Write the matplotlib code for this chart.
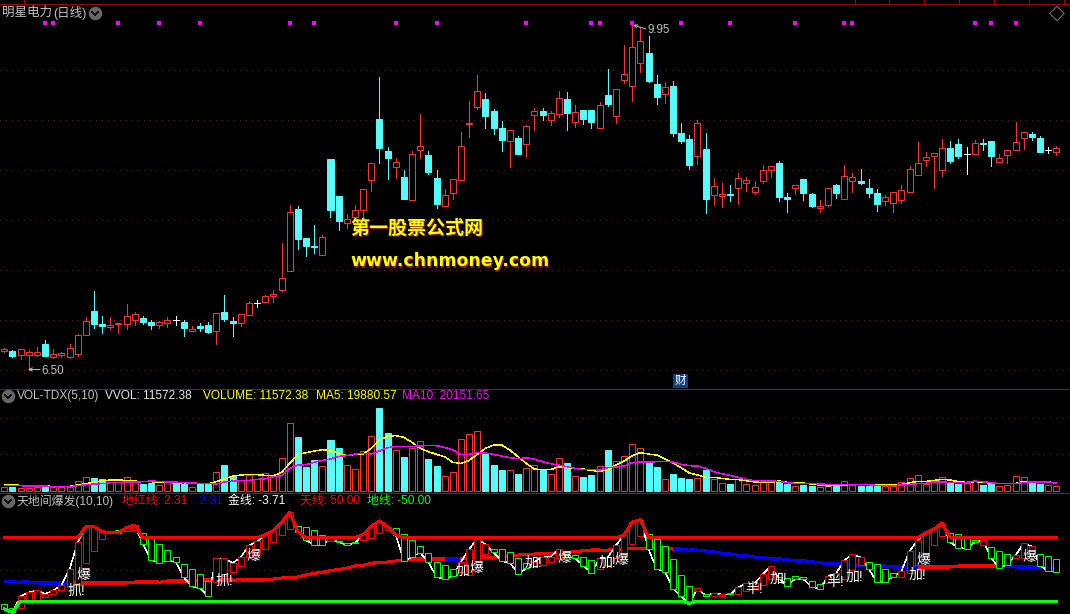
import matplotlib
matplotlib.use('Agg')
import matplotlib.pyplot as plt
import numpy as np

plt.rcParams['font.family'] = ['Liberation Sans', 'Noto Sans CJK SC', 'DejaVu Sans']
plt.rcParams['lines.antialiased'] = False
plt.rcParams['lines.scale_dashes'] = False

# daily prices
opens = [6.69, 6.69, 6.65, 6.65, 6.65, 6.76, 6.63, 6.65, 6.63, 6.66,
         6.85, 7.09, 6.96, 6.93, 6.96, 6.96, 7.00, 7.02, 6.98, 6.95,
         6.97, 7.00, 6.98, 6.89, 6.94, 6.95, 6.89, 7.08, 6.99, 6.97,
         7.05, 7.17, 7.18, 7.24, 7.30, 7.49, 8.11, 7.82, 7.74, 7.65,
         8.61, 8.24, 7.97, 8.03, 8.10, 8.40, 9.01, 8.69, 8.53, 8.43,
         8.20, 8.70, 8.65, 8.42, 8.14, 8.27, 8.40, 8.96, 9.13, 9.21,
         9.09, 8.92, 8.79, 8.82, 8.76, 9.05, 9.09, 9.00, 9.06, 9.21,
         8.98, 9.10, 9.10, 8.92, 9.25, 9.04, 9.40, 9.34, 9.57, 9.67,
         9.36, 9.26, 9.34, 8.87, 8.81, 8.64, 8.71, 8.25, 8.24, 8.26,
         8.32, 8.37, 8.28, 8.39, 8.50, 8.57, 8.23, 8.32, 8.41, 8.26,
         8.12, 8.15, 8.35, 8.21, 8.39, 8.39, 8.32, 8.27, 8.19, 8.17,
         8.20, 8.28, 8.45, 8.60, 8.64, 8.50, 8.72, 8.76, 8.66, 8.66,
         8.77, 8.79, 8.58, 8.65, 8.70, 8.82, 8.86, 8.82, 8.70, 8.68]
closes = [6.71, 6.64, 6.71, 6.68, 6.68, 6.64, 6.66, 6.67, 6.72, 6.85,
          6.99, 6.96, 6.94, 6.95, 6.97, 7.04, 7.06, 6.98, 6.95, 6.98,
          7.00, 7.00, 6.92, 6.91, 6.92, 6.88, 7.07, 7.01, 6.97, 7.06,
          7.17, 7.17, 7.24, 7.26, 7.42, 8.08, 7.81, 7.74, 7.73, 7.83,
          8.10, 7.99, 8.01, 8.10, 8.31, 8.57, 8.72, 8.62, 8.58, 8.21,
          8.66, 8.74, 8.48, 8.16, 8.25, 8.41, 8.74, 8.97, 9.29, 9.04,
          8.92, 8.80, 8.90, 8.66, 8.94, 9.09, 9.05, 9.07, 9.22, 9.07,
          9.08, 9.01, 8.98, 9.15, 9.16, 9.31, 9.46, 9.73, 9.79, 9.39,
          9.23, 9.33, 8.87, 8.79, 8.55, 8.97, 8.21, 8.34, 8.26, 8.25,
          8.42, 8.40, 8.33, 8.50, 8.54, 8.23, 8.21, 8.35, 8.27, 8.14,
          8.14, 8.32, 8.27, 8.44, 8.43, 8.37, 8.27, 8.16, 8.23, 8.28,
          8.30, 8.51, 8.57, 8.63, 8.67, 8.72, 8.59, 8.64, 8.66, 8.77,
          8.76, 8.64, 8.62, 8.70, 8.78, 8.88, 8.83, 8.68, 8.70, 8.72]
highs = [6.72, 6.70, 6.71, 6.70, 6.73, 6.80, 6.71, 6.68, 6.76, 6.86,
         7.03, 7.29, 7.04, 7.03, 6.97, 7.16, 7.08, 7.04, 7.00, 6.99,
         7.03, 7.04, 7.00, 6.94, 6.97, 6.98, 7.07, 7.25, 7.03, 7.06,
         7.19, 7.20, 7.25, 7.30, 7.77, 8.15, 8.14, 7.82, 7.95, 7.85,
         8.61, 8.24, 8.06, 8.15, 8.31, 8.57, 9.43, 8.73, 8.62, 8.50,
         8.69, 9.06, 8.69, 8.50, 8.31, 8.41, 8.88, 9.19, 9.45, 9.27,
         9.11, 8.99, 8.90, 8.84, 8.95, 9.12, 9.12, 9.09, 9.29, 9.28,
         9.15, 9.10, 9.10, 9.18, 9.51, 9.31, 9.75, 9.95, 9.92, 9.84,
         9.45, 9.38, 9.39, 8.97, 8.85, 9.00, 8.87, 8.42, 8.37, 8.35,
         8.47, 8.43, 8.39, 8.55, 8.54, 8.59, 8.27, 8.35, 8.41, 8.27,
         8.20, 8.32, 8.36, 8.55, 8.47, 8.51, 8.41, 8.31, 8.25, 8.28,
         8.35, 8.54, 8.78, 8.68, 8.67, 8.81, 8.79, 8.81, 8.73, 8.80,
         8.81, 8.79, 8.66, 8.70, 8.98, 8.88, 8.88, 8.84, 8.73, 8.74]
lows = [6.68, 6.63, 6.61, 6.50, 6.64, 6.64, 6.62, 6.63, 6.62, 6.64,
        6.85, 6.92, 6.87, 6.91, 6.87, 6.91, 6.95, 6.96, 6.91, 6.92,
        6.93, 6.95, 6.84, 6.89, 6.89, 6.87, 6.76, 6.99, 6.84, 6.94,
        7.05, 7.13, 7.18, 7.18, 7.29, 7.49, 7.71, 7.64, 7.67, 7.65,
        8.03, 7.90, 7.92, 8.03, 8.02, 8.29, 8.57, 8.41, 8.42, 8.21,
        8.20, 8.62, 8.46, 8.12, 8.14, 8.21, 8.40, 8.83, 9.11, 8.92,
        8.86, 8.69, 8.53, 8.66, 8.63, 8.90, 9.00, 8.95, 9.03, 8.90,
        8.93, 8.96, 8.92, 8.92, 9.14, 8.97, 9.37, 9.19, 9.48, 9.38,
        9.16, 9.17, 8.84, 8.77, 8.51, 8.56, 8.07, 8.15, 8.13, 8.19,
        8.16, 8.29, 8.26, 8.37, 8.43, 8.19, 8.08, 8.26, 8.20, 8.13,
        8.08, 8.14, 8.22, 8.21, 8.28, 8.36, 8.23, 8.09, 8.15, 8.08,
        8.17, 8.28, 8.45, 8.54, 8.32, 8.44, 8.57, 8.62, 8.46, 8.66,
        8.70, 8.54, 8.58, 8.57, 8.70, 8.71, 8.80, 8.68, 8.67, 8.65]

# days flagged with a magenta dot along the top
flag_bars = [5, 6, 14, 19, 24, 35, 38, 48, 53, 64, 72, 73, 77, 83, 89, 97,
             103, 104, 119, 121, 124]
flag_level = 9.97

volume = [10800, 9900, 6300, 8100, 9000, 12600, 9900, 9000, 9900, 25200,
          36000, 33300, 31500, 22500, 22500, 36000, 24300, 17100, 21600, 14400,
          25200, 18000, 18000, 9900, 17100, 17100, 49500, 69300, 39600, 28800,
          42300, 32400, 46800, 39600, 87300, 181800, 144900, 63900, 82800, 65700,
          136800, 115200, 68400, 57600, 108000, 146700, 223200, 155700, 108900, 90900,
          114300, 133200, 85500, 66600, 38700, 49500, 138600, 152100, 160200, 102600,
          69300, 55800, 54900, 45000, 62100, 68400, 55800, 44100, 87300, 74700,
          38700, 36900, 41400, 65700, 109800, 79200, 92700, 125100, 114300, 75600,
          63900, 30600, 45000, 34200, 31500, 34200, 55800, 30600, 19800, 18000,
          30600, 17100, 15300, 26100, 23400, 26100, 18900, 11700, 15300, 12600,
          9900, 11700, 13500, 25200, 16200, 12600, 12600, 12600, 11700, 13500,
          22500, 33300, 41400, 17100, 25200, 36000, 20700, 18000, 21600, 27000,
          15300, 18900, 12600, 14400, 38700, 36000, 20700, 18000, 14400, 11572]
ma5 = [16200, 16200, 14400, 13500, 13500, 13500, 10800, 10800, 11700, 15300,
       18900, 22500, 27000, 28800, 28800, 27900, 26100, 24300, 24300, 22500,
       22500, 20700, 21600, 18900, 18900, 18900, 24300, 31500, 39600, 42300,
       44100, 43200, 41400, 40500, 49500, 73800, 98100, 102600, 107100, 110700,
       108000, 100800, 94500, 98100, 99000, 114300, 136800, 147600, 148500, 144000,
       130500, 114300, 105300, 98100, 91800, 76500, 73800, 81900, 98100, 114300,
       123300, 123300, 109800, 91800, 73800, 58500, 56700, 56700, 64800, 62100,
       60300, 58500, 54900, 52200, 56700, 69300, 80100, 94500, 102600, 99000,
       96300, 85500, 74700, 62100, 47700, 42300, 36000, 36000, 33300, 30600,
       29700, 27000, 23400, 22500, 22500, 26100, 22500, 22500, 20700, 18000,
       15300, 12600, 14400, 15300, 17100, 17100, 17100, 17100, 15300, 15300,
       17100, 21600, 25200, 25200, 27900, 30600, 28800, 24300, 22500, 24300,
       23400, 19800, 19800, 19800, 19800, 25200, 25200, 25200, 24300, 19880]
ma10 = [13500, 13500, 13500, 12600, 12600, 12600, 10800, 10800, 10800, 13500,
        16200, 18000, 18900, 21600, 22500, 23400, 23400, 24300, 26100, 25200,
        23400, 23400, 21600, 20700, 19800, 19800, 18000, 23400, 26100, 27000,
        27900, 30600, 32400, 37800, 40500, 60300, 69300, 70200, 76500, 81900,
        85500, 92700, 94500, 99000, 100800, 99000, 107100, 116100, 119700, 119700,
        119700, 120600, 122400, 121500, 117000, 109800, 98100, 98100, 102600, 101700,
        98100, 93600, 89100, 86400, 89100, 85500, 78300, 72900, 69300, 64800,
        60300, 56700, 57600, 55800, 62100, 63900, 66600, 75600, 77400, 77400,
        78300, 79200, 77400, 71100, 67500, 66600, 60300, 51300, 45900, 41400,
        36000, 30600, 27000, 27000, 26100, 25200, 21600, 19800, 19800, 19800,
        18000, 17100, 17100, 17100, 17100, 17100, 16200, 14400, 14400, 14400,
        15300, 17100, 18900, 19800, 23400, 23400, 22500, 21600, 22500, 26100,
        24300, 21600, 18900, 18900, 18900, 22500, 23400, 23400, 23400, 20151]
# doji sessions that still closed lower than the day before
doji_down = [21]

# oscillator boxes, the close is also the white "gold" line
osc_open = [-55.3, -61.6, -60.6, -53.7, -48.9, -44.2, -38.4, -33.1, -27.2, -24.6,
            10.8, 29.9, 47.9, 60.0, 62.2, 61.6, 62.7, 57.4, 50.0, 39.9,
            30.4, 19.3, 8.2, 0.3, -7.7, -18.8, -19.3, -10.3, -4.5, 5.0,
            20.4, 24.6, 33.1, 44.2, 55.3, 64.8, 69.0, 66.9, 62.2, 54.2,
            45.2, 45.2, 42.6, 44.2, 46.3, 50.0, 57.4, 62.2, 65.3, 55.8,
            46.3, 36.8, 25.7, 11.4, 6.6, 0.3, -3.4, -8.7, 14.0, 24.6,
            32.5, 32.0, 28.3, 17.7, 9.8, 4.5, 7.1, 11.4, 17.7, 23.0,
            22.5, 19.3, 14.5, 0.8, 7.1, 17.7, 23.5, 39.9, 53.7, 55.8,
            47.9, 36.8, 16.1, -9.3, -26.7, -33.6, -39.4, -41.5, -41.5, -37.3,
            -38.4, -33.6, -29.9, -24.1, -15.6, -11.4, -13.0, -10.8, -12.4, -18.8,
            -22.5, -20.9, -18.8, -15.6, -1.3, 7.7, 11.4, 8.2, 0.3, -6.1,
            -11.4, -5.0, 7.1, 23.5, 39.4, 53.7, 57.4, 55.8, 49.5, 46.3,
            39.4, 35.2, 28.8, 24.1, 18.8, 18.8, 20.9, 24.1, 20.9, 16.1]
osc_close = [-62.7, -68.0, -42.6, -36.2, -33.1, -38.9, -33.1, -25.1, 0.3, 43.1,
             68.0, 68.0, 60.0, 58.5, 58.5, 66.4, 70.6, 39.9, 15.1, 10.8,
             14.0, 12.4, -12.4, -26.7, -29.9, -41.5, 17.7, 17.7, 10.3, 19.3,
             38.4, 44.7, 55.3, 61.6, 74.9, 90.7, 60.0, 46.3, 38.4, 38.4,
             49.5, 43.1, 38.9, 42.1, 55.8, 68.5, 77.0, 68.0, 55.3, 13.0,
             20.4, 26.7, 11.4, -11.4, -15.6, -9.8, 12.4, 32.0, 48.9, 39.9,
             27.2, 13.0, 10.8, -6.6, 1.9, 12.4, 19.3, 20.4, 32.0, 20.4,
             17.7, 6.1, -5.0, 17.7, 19.3, 38.4, 54.8, 74.9, 79.1, 32.0,
             1.3, -3.4, -30.4, -42.6, -53.7, -29.9, -41.5, -37.8, -39.4, -39.4,
             -28.3, -22.0, -22.0, -7.7, 5.0, -14.5, -25.7, -14.5, -15.6, -27.2,
             -31.5, -10.8, -6.1, 14.5, 24.1, 19.3, 1.3, -20.4, -19.3, -11.4,
             -2.9, 28.8, 46.3, 57.9, 64.3, 73.3, 43.1, 34.6, 33.1, 43.1,
             46.3, 18.8, 1.9, 7.7, 22.5, 41.5, 36.8, 6.1, -1.9, -3.71]
red_line = [-18.8, -19.3, -20.4, -20.4, -21.4, -21.4, -21.4, -21.4, -21.4, -21.4,
            -21.4, -21.4, -21.4, -21.4, -21.4, -21.4, -20.4, -20.4, -20.4, -20.4,
            -18.3, -18.3, -18.3, -18.3, -17.2, -17.2, -17.2, -17.2, -17.2, -16.1,
            -16.1, -16.1, -16.1, -15.1, -13.5, -12.4, -11.9, -8.7, -6.1, -4.5,
            -1.9, 0.3, 1.9, 5.6, 6.6, 9.8, 11.4, 11.9, 13.5, 15.1,
            16.7, 16.7, 16.7, 16.7, 16.7, 16.7, 16.7, 17.7, 19.3, 19.3,
            19.8, 19.8, 22.0, 23.0, 23.5, 24.6, 25.1, 25.7, 26.7, 27.2,
            28.3, 29.9, 30.4, 30.4, 30.9, 32.0, 32.5, 33.6, 34.1, 33.6,
            33.6, 33.6, 32.5, 32.5, 30.4, 30.4, 29.4, 28.3, 25.7, 24.6,
            22.5, 22.0, 19.8, 19.3, 17.2, 17.2, 15.6, 14.0, 14.0, 12.4,
            10.8, 9.3, 9.3, 9.3, 7.1, 7.1, 6.6, 5.6, 5.6, 4.0,
            4.0, 4.0, 4.0, 4.0, 4.0, 4.0, 4.0, 5.6, 5.6, 5.6,
            5.6, 5.6, 5.6, 5.6, 4.0, 4.0, 4.0, 4.0, 3.4, 2.31]
blue_spans = [(0, 8), (54, 56), (82, 112), (122, 129)]
sky_level = 50
ground_level = -50

bg = 'black'
up_red = '#FF3232'
down_cyan = '#54FCFC'
box_green = '#00FF00'
grid_red = '#7E1414'
frame_red = '#A80808'
label_gray = '#C0C0C0'
W, H = 1070, 614
thin = 0.72  # one device pixel
hair = 0.3  # aliased widths get rounded, this one stays a single pixel

fig = plt.figure(figsize=(W / 100, H / 100), dpi=100, facecolor=bg)


def panel(top, bottom, ylim):
    ax = fig.add_axes([0, 1 - bottom / H, 1, (bottom - top) / H], facecolor=bg)
    # one bar every 8.155 px, first one 4.3 px in
    ax.set_xlim(-4.3 / 8.155, (W - 4.3) / 8.155)
    ax.set_ylim(*ylim)
    ax.axis('off')
    return ax


def dotted(ax, levels):
    ax.hlines(levels, *ax.get_xlim(), color=grid_red, lw=thin, linestyles=[(0, (0.72, 3.6))], zorder=1)


n = len(closes)
x = np.arange(n)
o, c = np.array(opens), np.array(closes)
body_w = 0.736

# price panel
ax1 = panel(3.3, 388.3, (6.317, 10.167))
dotted(ax1, [6.5, 7, 7.5, 8, 8.5, 9, 9.5])
for i in x:
    if o[i] == c[i]:
        col = 'white'
    elif c[i] > o[i]:
        col = up_red
    else:
        col = down_cyan
    ax1.plot([i, i], [lows[i], highs[i]], color=col, lw=thin, antialiased=True, zorder=2)
    if o[i] == c[i]:
        ax1.plot([i - body_w / 2, i + body_w / 2], [c[i], c[i]], color=col, lw=thin, antialiased=True, zorder=3)
    else:
        ax1.bar(i, abs(c[i] - o[i]), body_w, bottom=min(o[i], c[i]), edgecolor=col,
                facecolor=bg if c[i] > o[i] else col, lw=thin, zorder=3)
ax1.scatter(flag_bars, [flag_level] * len(flag_bars), marker='s', s=5, color='#FF00FF', lw=0, zorder=4)

# volume panel
ax2 = panel(388.3, 492.3, (-4320, 276480))
dotted(ax2, [98300, 196300])
for i in x:
    down = c[i] < o[i] or i in doji_down
    col = down_cyan if down else up_red
    ax2.bar(i, volume[i], body_w, edgecolor=col, facecolor=col if down else bg, lw=thin, zorder=2)
ax2.plot(x, ma5, color='#FFFF00', lw=hair, zorder=3)
ax2.plot(x, ma10, color='#FF00FF', lw=hair, zorder=4)

# oscillator panel
ax3 = panel(492.3, 614, (-70.6, 122.5))
dotted(ax3, [0, 50])
for i in range(n - 1):
    in_blue = any(a <= i < b for a, b in blue_spans)
    ax3.plot([i, i + 1], red_line[i:i + 2], color='#0000FF' if in_blue else '#FF0000', lw=1.45,
             solid_capstyle='butt', zorder=2)
ax3.plot(x, osc_close, color='white', lw=hair, zorder=3)
for i in x:
    col = '#FF0000' if osc_close[i] >= osc_open[i] else box_green
    ax3.bar(i, abs(osc_close[i] - osc_open[i]), body_w, bottom=min(osc_open[i], osc_close[i]),
            edgecolor=col, facecolor=bg, lw=thin, zorder=4)
ax3.plot(x, np.maximum(osc_close, sky_level), color='#FF0000', lw=1.45, zorder=5)
ax3.plot(x, np.minimum(osc_close, ground_level), color=box_green, lw=1.45, zorder=5)

# overlay in pixel units for the frame, the header texts and the icons
ov = fig.add_axes([0, 0, 1, 1], facecolor='none')
ov.set_xlim(0, W)
ov.set_ylim(H, 0)
ov.axis('off')
ov.hlines([3.5], 0, W, color='#8F0A0A', lw=thin)
ov.hlines([388.5, 492.5], 0, W, color=frame_red, lw=thin)
ov.vlines([24, 855, 889, 924, 959, 994, 1029, 1064], 0, 3.5, color='#8F0A0A', lw=thin)


def label(px, py, s, color=label_gray, size=8.6, **kw):
    ov.text(px, py, s, color=color, fontsize=size, va='center', ha='left', **kw)


def chevron(cx, cy):
    ov.scatter([cx], [cy], s=95, color='#666666', lw=0, zorder=5)
    ov.plot([cx - 3, cx, cx + 3], [cy - 1, cy + 2, cy - 1], color='#111111', lw=1.0, zorder=6)


chevron(95, 13)
chevron(8, 396)
chevron(8, 501)
ov.scatter([1057], [13.5], marker='D', s=55, facecolor='none', edgecolor='#7A7A7A', lw=0.7)

label(2, 13, '明星电力', size=9.0)
label(53, 13, '(日线)', size=9.0)

# high / low arrows on the price panel
ov.annotate('', xy=(633, 25), xytext=(646, 29),
            arrowprops=dict(arrowstyle='->', color=label_gray, lw=0.7, shrinkA=0, shrinkB=0, mutation_scale=6))
label(647, 30, '9.95', size=8.4)
ov.annotate('', xy=(28, 369.5), xytext=(40, 369.5),
            arrowprops=dict(arrowstyle='->', color=label_gray, lw=0.7, shrinkA=0, shrinkB=0, mutation_scale=6))
label(41, 370.5, '6.50', size=8.4)

# site watermark with a dark red shadow
for dx, col in [(1, '#8A1A00'), (0, '#FFFF00')]:
    ov.text(350 + dx, 228 + dx, '第一股票公式网', color=col, fontsize=13.7, fontweight='bold',
            family=['Noto Sans CJK SC', 'DejaVu Sans'], va='center', ha='left')
    ov.text(350 + dx, 261.5 + dx, 'www.chnmoney.com', color=col, fontsize=12.5, fontweight='bold',
            family='DejaVu Sans', va='center', ha='left')

# 财 news tag
ov.text(680.5, 381, '财', color='white', fontsize=8.4, ha='center', va='center',
        bbox=dict(boxstyle='square,pad=0.12', fc='#12407F', ec='none'))

# volume legend
label(17, 396, 'VOL-TDX(5,10)')
label(105, 396, 'VVOL: 11572.38', color='#E6E6E6')
label(203, 396, 'VOLUME: 11572.38', color='#FFFF00')
label(316, 396, 'MA5: 19880.57', color='#FFFF00')
label(402, 396, 'MA10: 20151.65', color='#FF00FF')

# oscillator legend
label(17, 501, '天地间爆发(10,10)')
label(122, 501, '地红线: 2.31', color='#FF0000')
label(193, 501, ': 2.31', color='#0000FF')
label(228, 501, '金线: -3.71', color='white')
label(300, 501, '天线: 50.00', color='#FF0000')
label(367, 501, '地线: -50.00', color=box_green)

# signal words on the oscillator
signal_words = ['抓!', '爆', '抓!', '爆', '加', '爆', '加!', '爆', '加!', '爆', '半!', '加!', '半!', '加!', '加!', '爆', '爆']
signal_x = [68, 77, 216, 247, 456, 470, 525, 558, 599, 615, 745, 770, 826, 846, 909, 917, 1023]
signal_y = [591, 575, 581, 556, 571, 568, 563, 558, 563, 560, 589, 579, 582, 577, 575, 560, 557]
for s, px, py in zip(signal_words, signal_x, signal_y):
    label(px, py, s, color='white', size=10, zorder=8)

fig.savefig('out.png', dpi=100, facecolor=bg)
